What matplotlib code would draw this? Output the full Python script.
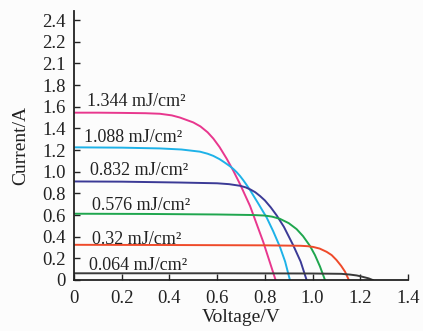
import matplotlib
matplotlib.use("Agg")
import matplotlib.pyplot as plt

plt.rcParams['font.family'] = ['Liberation Serif', 'DejaVu Serif']

# ---- data ----
labels = ["1.344 mJ/cm²", "1.088 mJ/cm²", "0.832 mJ/cm²",
          "0.576 mJ/cm²", "0.32 mJ/cm²", "0.064 mJ/cm²"]

v_1344 = [0, 0.1, 0.2, 0.3, 0.36, 0.41, 0.444, 0.5, 0.53, 0.56, 0.584, 0.61, 0.64, 0.668, 0.696, 0.738, 0.793, 0.845]
i_1344 = [1.545, 1.545, 1.543, 1.54, 1.535, 1.52, 1.50, 1.455, 1.418, 1.364, 1.306, 1.228, 1.12, 1.008, 0.885, 0.683, 0.353, 0.0]

v_1088 = [0, 0.2, 0.36, 0.45, 0.528, 0.56, 0.584, 0.61, 0.63, 0.654, 0.668, 0.682, 0.696, 0.71, 0.724, 0.738, 0.77, 0.808, 0.835, 0.863, 0.885, 0.905]
i_1088 = [1.225, 1.222, 1.215, 1.205, 1.185, 1.166, 1.146, 1.116, 1.087, 1.05, 1.025, 0.995, 0.96, 0.92, 0.876, 0.83, 0.715, 0.575, 0.45, 0.307, 0.17, 0.0]

v_0832 = [0, 0.2, 0.444, 0.6, 0.65, 0.696, 0.72, 0.74, 0.76, 0.78, 0.8, 0.825, 0.85, 0.88, 0.919, 0.95, 0.975]
i_0832 = [0.91, 0.908, 0.90, 0.893, 0.885, 0.87, 0.855, 0.835, 0.81, 0.775, 0.735, 0.67, 0.595, 0.49, 0.32, 0.17, 0.0]

v_0576 = [0, 0.3, 0.6, 0.75, 0.8, 0.83, 0.863, 0.9, 0.933, 0.96, 0.989, 1.01, 1.031, 1.052]
i_0576 = [0.612, 0.61, 0.605, 0.60, 0.595, 0.585, 0.565, 0.525, 0.47, 0.405, 0.315, 0.23, 0.125, 0.0]

v_032 = [0, 0.4, 0.8, 0.95, 0.98, 1.003, 1.03, 1.059, 1.08, 1.10, 1.12, 1.136, 1.152]
i_032 = [0.325, 0.323, 0.32, 0.316, 0.312, 0.305, 0.29, 0.26, 0.23, 0.185, 0.13, 0.077, 0.0]

v_0064 = [0, 0.6, 1.0, 1.12, 1.157, 1.185, 1.205, 1.235, 1.252]
i_0064 = [0.062, 0.062, 0.06, 0.057, 0.05, 0.042, 0.032, 0.015, 0.0]

x_ticks = [0, 0.2, 0.4, 0.6, 0.8, 1.0, 1.2, 1.4]
x_ticklabels = ["0", "0.2", "0.4", "0.6", "0.8", "1.0", "1.2", "1.4"]
y_ticks = [0, 0.2, 0.4, 0.6, 0.8, 1.0, 1.2, 1.4, 1.6, 1.8, 2.0, 2.2, 2.4]
y_ticklabels = ["0", "0.2", "0.4", "0.6", "0.8", "1.0", "1.2", "1.4", "1.6", "1.8", "2.1", "2.2", "2.4"]

series_v = [v_1344, v_1088, v_0832, v_0576, v_032, v_0064]
series_i = [i_1344, i_1088, i_0832, i_0576, i_032, i_0064]
colors = ["#e8378e", "#1eb2e8", "#3b3a96", "#1fa64e", "#ef4a2a", "#3a3a3a"]
label_pos = [(0.053, 1.645), (0.043, 1.315), (0.065, 1.01), (0.075, 0.69), (0.075, 0.375), (0.062, 0.13)]

fig = plt.figure(figsize=(4.23, 3.31), dpi=100)
fig.patch.set_facecolor("#fcfcfc")
ax = fig.add_axes([74 / 423, 1 - 280 / 331, (408 - 74) / 423, (280 - 11) / 331])
ax.set_facecolor("#fcfcfc")

for v, i, c in zip(series_v, series_i, colors):
    ax.plot(v, i, color=c, lw=1.4, solid_joinstyle="round")

for (lx, ly), t in zip(label_pos, labels):
    ax.text(lx, ly, t, fontsize=13, color="#222222", va="center", ha="left")

ax.set_xlim(0, 1.4)
ax.set_ylim(0, (280 - 11) / 108.3)
ax.set_xticks(x_ticks)
ax.set_xticklabels(x_ticklabels)
ax.set_yticks(y_ticks)
ax.set_yticklabels(y_ticklabels)
ax.tick_params(direction="in", length=4, width=1.0, labelsize=13.5, colors="#222222")
ax.tick_params(axis="y", pad=6)
ax.tick_params(axis="x", pad=7)
for s in ["top", "right"]:
    ax.spines[s].set_visible(False)
for s in ["left", "bottom"]:
    ax.spines[s].set_linewidth(1.3)
    ax.spines[s].set_color("#222222")

ax.set_xlabel("Voltage/V", fontsize=14, color="#222222", labelpad=2)
ax.set_ylabel("Current/A", fontsize=14, color="#222222", labelpad=9)

fig.savefig("out.png", dpi=100, facecolor=fig.get_facecolor())
